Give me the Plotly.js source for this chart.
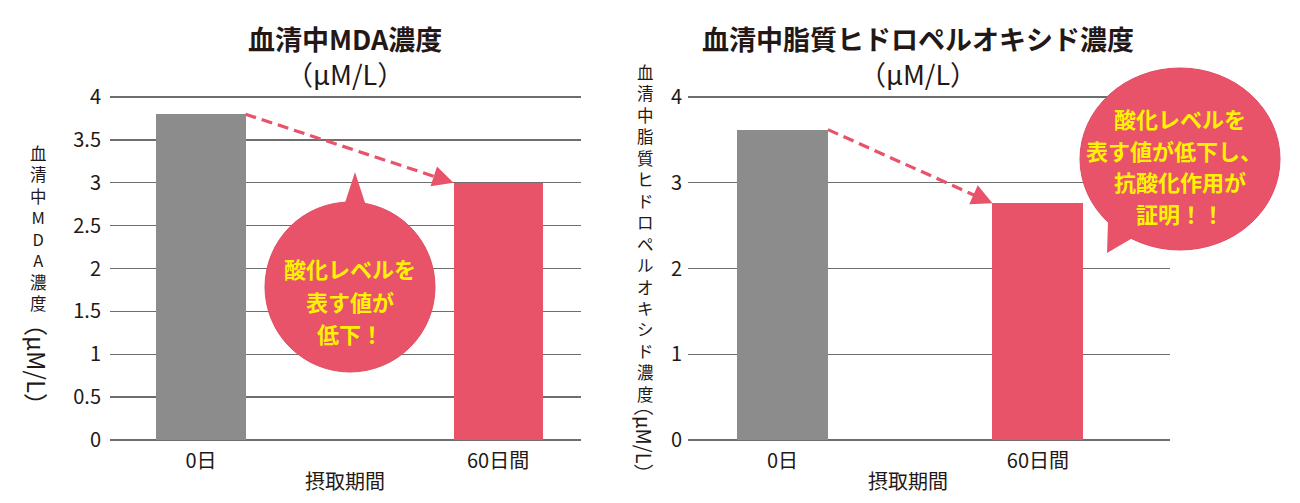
<!DOCTYPE html>
<html><head><meta charset="utf-8">
<script src="https://cdn.plot.ly/plotly-3.0.1.min.js"></script>
<style>html,body{margin:0;padding:0;background:#fff}#chart{width:1300px;height:503px}</style>
</head><body><div id="chart"></div>
<script>
// ---- data ----
const categories = ['0日', '60日間'];
const categoryPos = [0, 1];
const mdaValues = [3.8, 3.0];
const lpoValues = [3.62, 2.76];
const mdaTicks = [0, 0.5, 1, 1.5, 2, 2.5, 3, 3.5, 4];
const lpoTicks = [0, 1, 2, 3, 4];
const barColors = ['#8c8c8c', '#e8536a'];
const leftTitle = '血清中MDA濃度';
const rightTitle = '血清中脂質ヒドロペルオキシド濃度';
const unitText = '（μM/L）';
const xTitle = '摂取期間';
const leftYTitle = '血清中MDA濃度';
const rightYTitle = '血清中脂質ヒドロペルオキシド濃度';
const leftBubble = ['酸化レベルを', '表す値が', '低下！'];
const rightBubble = ['酸化レベルを', '表す値が低下し、', '抗酸化作用が', '証明！！'];

// ---- layout helpers ----
const W = 1300, H = 503;
const px = v => v / W, py = v => 1 - v / H;
const FONT = '"Noto Sans CJK JP", "Noto Sans", sans-serif';
const RED = '#e8536a';
const leftW = 0.30, rightW = 0.356;

function arrowTrace(vals, w, xa, ya) {
  return {type: 'scatter', mode: 'lines', xaxis: xa, yaxis: ya, hoverinfo: 'skip',
    x: [categoryPos[0] + w / 2, categoryPos[1] - w / 2 - 0.03], y: [vals[0], vals[1] + (vals[0]-vals[1])*0.03/(1-w)],
    line: {color: RED, width: 3.2, dash: '11px,6px'}, showlegend: false};
}
function arrowHead(vals, w, xa, ya) {
  const x1 = categoryPos[1] - w / 2, x0 = categoryPos[0] + w / 2;
  const t = 0.06;
  return {xref: xa, yref: ya, axref: xa, ayref: ya, x: x1, y: vals[1],
    ax: x1 - t * (x1 - x0), ay: vals[1] + t * (vals[0] - vals[1]), text: '',
    showarrow: true, arrowhead: 2, arrowsize: 1.3, arrowwidth: 3.2, arrowcolor: RED, standoff: 0};
}

const data = [
  {type: 'bar', x: categoryPos, y: mdaValues, width: leftW, marker: {color: barColors}, xaxis: 'x', yaxis: 'y', showlegend: false},
  {type: 'bar', x: categoryPos, y: lpoValues, width: rightW, marker: {color: barColors}, xaxis: 'x2', yaxis: 'y2', showlegend: false},
  arrowTrace(mdaValues, leftW, 'x', 'y'),
  arrowTrace(lpoValues, rightW, 'x2', 'y2')
];

const yBase = {gridcolor: '#6e6e6e', gridwidth: 1.4, zeroline: false, showline: false, ticks: '',
  tickfont: {family: FONT, size: 20, color: '#231815'}, fixedrange: true};
const xBase = {showgrid: false, zeroline: false, showline: false, ticks: '', tickvals: categoryPos, ticktext: categories,
  tickfont: {family: FONT, size: 20, color: '#231815'}, ticklabelstandoff: 6};

function ann(text, x, y, size, opts) {
  return Object.assign({xref: 'paper', yref: 'paper', x: px(x), y: py(y), xanchor: 'center', yanchor: 'middle',
    text: text, showarrow: false, font: {family: FONT, size: size, color: '#231815'}}, opts || {});
}
function stackedText(s) { return Array.from(s).join('<br>'); }

const annotations = [
  ann('<b>' + leftTitle + '</b><br>' + unitText, 345, 56, 27),
  ann('<b>' + rightTitle + '</b><br>' + unitText, 918, 56, 27),
  ann(xTitle, 345, 480, 20),
  ann(xTitle, 908, 480, 20),
  ann(stackedText(leftYTitle), 38, 153 + 3.5 * 21.45, 16.5),
  ann(unitText, 38, 364, 24, {textangle: 90}),
  ann(stackedText(rightYTitle), 645, 72 + 7.5 * 21.45, 16.5),
  ann(unitText, 645, 440, 20, {textangle: 90}),
  arrowHead(mdaValues, leftW, 'x', 'y'),
  arrowHead(lpoValues, rightW, 'x2', 'y2')
];

const yellow = '#fff200';
const lY = [268, 301, 333];
leftBubble.forEach((t, i) => annotations.push(ann('<b>' + t + '</b>', 350, lY[i], 22, {font: {family: FONT, size: 22, color: yellow}})));
const rY = [118, 150, 181, 213];
const rX = [1180, 1174, 1180, 1180];
rightBubble.forEach((t, i) => annotations.push(ann('<b>' + t + '</b>', rX[i], rY[i], 22, {font: {family: FONT, size: 22, color: yellow}})));

function path(pts) { return 'M' + pts.map(p => px(p[0]) + ',' + py(p[1])).join(' L') + ' Z'; }
const shapes = [
  {type: 'circle', xref: 'paper', yref: 'paper', x0: px(265), x1: px(435), y0: py(372), y1: py(202), fillcolor: RED, line: {color: '#e04a62', width: 1}},
  {type: 'path', xref: 'paper', yref: 'paper', path: path([[342, 212], [355, 172], [368, 212]]), fillcolor: RED, line: {width: 0}},
  {type: 'circle', xref: 'paper', yref: 'paper', x0: px(1080), x1: px(1280), y0: py(250), y1: py(68), fillcolor: RED, line: {color: '#e04a62', width: 1}},
  {type: 'path', xref: 'paper', yref: 'paper', path: path([[1108, 222], [1107, 253], [1136, 236]]), fillcolor: RED, line: {width: 0}}
];

const layout = {
  width: W, height: H, margin: {l: 0, r: 0, t: 0, b: 0}, paper_bgcolor: '#fff', plot_bgcolor: '#fff',
  showlegend: false, bargap: 0,
  xaxis: Object.assign({}, xBase, {domain: [px(110), px(581)], range: [-0.306, 1.279], anchor: 'y'}),
  yaxis: Object.assign({}, yBase, {domain: [py(441), py(96)], range: [-0.012, 4.012], tickvals: mdaTicks, anchor: 'x', ticklabelstandoff: 8}),
  xaxis2: Object.assign({}, xBase, {domain: [px(688), px(1170)], range: [-0.37, 1.517], anchor: 'y2'}),
  yaxis2: Object.assign({}, yBase, {domain: [py(441), py(96)], range: [-0.012, 4.012], tickvals: lpoTicks, anchor: 'x2', ticklabelstandoff: 5}),
  annotations: annotations, shapes: shapes
};
Plotly.newPlot('chart', data, layout, {displayModeBar: false, staticPlot: true});
</script></body></html>
